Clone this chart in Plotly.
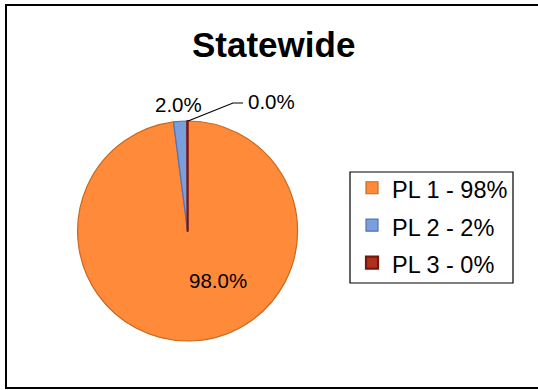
import plotly.graph_objects as go

# Data
categories = ["PL 1", "PL 2", "PL 3"]
values = [98.0, 2.0, 0.045]
fill_colors = ["#FF8A3A", "#7B9EDC", "#B0301E"]
edge_colors = ["#C8691F", "#4F74B8", "#7A160E"]

W, H = 538, 390
total = sum(values)
pcts = [v / total * 100 for v in values]
slice_text = [f"{p:.1f}%" for p in pcts]
legend_labels = [f"<span style='font-size:23.5px'>{c} - {p:.0f}%</span>" for c, p in zip(categories, pcts)]

# pie placement (pixels → paper)
cx, cy, r = 187.6, 231.0, 110.0
dom_x = [(cx - r) / W, (cx + r) / W]
dom_y = [1 - (cy + r) / H, 1 - (cy - r) / H]

FONT = "Liberation Sans, Arial, sans-serif"

fig = go.Figure(
    go.Pie(
        labels=legend_labels,
        values=values,
        sort=False,
        direction="clockwise",
        rotation=0,
        textinfo="none",
        hoverinfo="label+percent",
        marker=dict(colors=fill_colors,
                    line=dict(color=edge_colors, width=[1.2, 1.2, 2.2])),
        domain=dict(x=dom_x, y=dom_y),
    )
)

def px(x):
    return x / W

def py(y):
    return 1 - y / H

annotations = [
    dict(text="<b>Statewide</b>", x=px(273), y=py(44), xanchor="center", yanchor="middle",
         font=dict(size=35, color="black", family=FONT)),
    dict(text=slice_text[0], x=px(218), y=py(280), xanchor="center", yanchor="middle",
         font=dict(size=20.5, color="black", family=FONT)),
    dict(text=slice_text[1], x=px(178), y=py(105), xanchor="center", yanchor="middle",
         font=dict(size=20.5, color="black", family=FONT)),
    dict(text=slice_text[2], x=px(246), y=py(102), xanchor="left", yanchor="middle",
         font=dict(size=20.5, color="black", family=FONT)),
]
for a in annotations:
    a.update(xref="paper", yref="paper", showarrow=False)

# leader line from the top of the pie to the "0.0%" label
top_x, top_y = cx + 0.5, cy - r
shapes = [
    dict(type="path", xref="paper", yref="paper",
         path=f"M {px(top_x)} {py(top_y)} L {px(233)} {py(103)} L {px(243)} {py(103)}",
         line=dict(color="black", width=1.2)),
    # legend frame
    dict(type="rect", xref="paper", yref="paper",
         x0=px(350), y0=py(283), x1=px(513), y1=py(172),
         line=dict(color="black", width=1.2)),
    # outer chart frame
    dict(type="rect", xref="paper", yref="paper",
         x0=px(6), y0=py(388), x1=px(545), y1=py(5),
         line=dict(color="black", width=2)),
]

fig.update_layout(
    width=W, height=H,
    margin=dict(l=0, r=0, t=0, b=0),
    paper_bgcolor="white",
    plot_bgcolor="white",
    font=dict(family=FONT, color="black"),
    annotations=annotations,
    shapes=shapes,
    showlegend=True,
    legend=dict(
        x=px(352), y=py(164), xanchor="left", yanchor="top",
        font=dict(size=26.5, family=FONT, color="black"),
        borderwidth=0, bgcolor="rgba(0,0,0,0)",
    ),
)

fig.write_html("out.html")
